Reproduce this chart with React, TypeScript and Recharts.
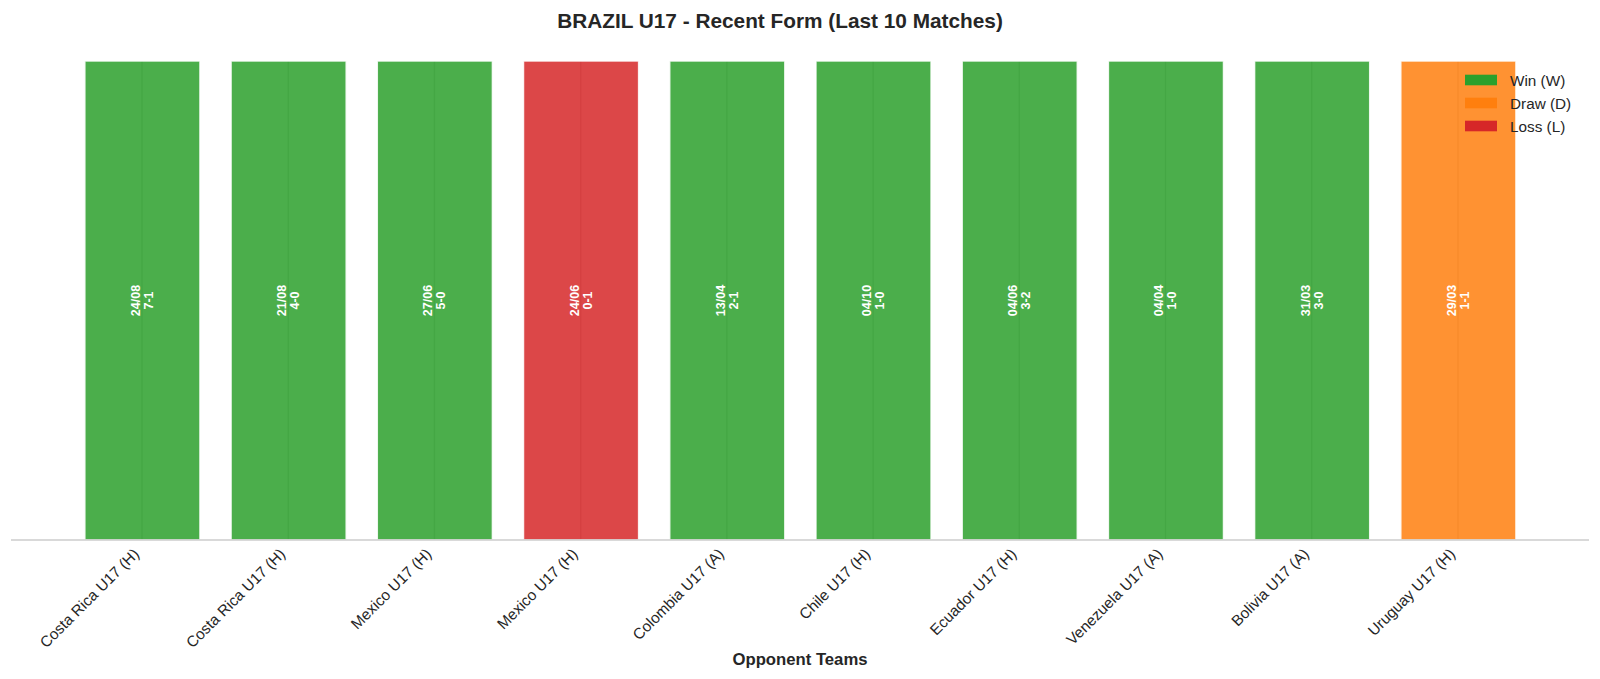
import React from 'react';
import { BarChart, Bar, XAxis, YAxis, CartesianGrid, Cell, LabelList } from 'recharts';

const opponents = [
  'Costa Rica U17 (H)', 'Costa Rica U17 (H)', 'Mexico U17 (H)', 'Mexico U17 (H)', 'Colombia U17 (A)',
  'Chile U17 (H)', 'Ecuador U17 (H)', 'Venezuela U17 (A)', 'Bolivia U17 (A)', 'Uruguay U17 (H)',
];
const dates = ['24/08', '21/08', '27/06', '24/06', '13/04', '04/10', '04/06', '04/04', '31/03', '29/03'];
const scores = ['7-1', '4-0', '5-0', '0-1', '2-1', '1-0', '3-2', '1-0', '3-0', '1-1'];
const results = ['W', 'W', 'W', 'L', 'W', 'W', 'W', 'W', 'W', 'D'];
const barHeights = [1, 1, 1, 1, 1, 1, 1, 1, 1, 1];
const tickPositions = [0, 1, 2, 3, 4, 5, 6, 7, 8, 9];

const resultColors: Record<string, string> = { W: '#2ca02c', D: '#ff7f0e', L: '#d62728' };
const legendItems = [
  { key: 'W', label: 'Win (W)' },
  { key: 'D', label: 'Draw (D)' },
  { key: 'L', label: 'Loss (L)' },
];

const data = opponents.map((o, i) => ({
  idx: i,
  value: barHeights[i],
  opponent: o,
  date: dates[i],
  score: scores[i],
  result: results[i],
}));

const FONT = '"Liberation Sans", Arial, Helvetica, sans-serif';
const TEXT = '#262626';

const W = 1600;
const H = 679;

const XTick = (props: any) => {
  const { x, y, payload } = props;
  const label = opponents[payload.value] ?? '';
  const ex = x - 2;
  const ey = y + 13;
  return (
    <text
      x={ex}
      y={ey}
      transform={`rotate(-45, ${ex}, ${ey})`}
      textAnchor="end"
      fontSize={15.3}
      fontFamily={FONT}
      fill={TEXT}
    >
      {label}
    </text>
  );
};

const BarLabel = (props: any) => {
  const { x, y, width, height, index } = props;
  const cx = x + width / 2;
  const cy = y + height / 2;
  return (
    <text
      transform={`rotate(-90, ${cx}, ${cy})`}
      textAnchor="middle"
      fontSize={12.5}
      fontWeight="bold"
      fontFamily={FONT}
      fill="#ffffff"
    >
      <tspan x={cx} y={cy - 6.5} dominantBaseline="central">{dates[index]}</tspan>
      <tspan x={cx} y={cy + 6.5} dominantBaseline="central">{scores[index]}</tspan>
    </text>
  );
};

const verticalGen = (props: any) => {
  const xAxis = props.xAxis;
  const scale = xAxis && xAxis.scale;
  if (!scale) return [];
  const fn = typeof scale === 'function' ? scale : scale.map ? scale.map : null;
  if (!fn) return [];
  return tickPositions.map((t) => fn(t));
};

export default function App() {
  return (
    <div style={{ position: 'absolute', left: 0, top: 0, width: W, height: H, background: '#fff' }}>
      <BarChart
        width={W}
        height={H}
        data={data}
        margin={{ top: 61, right: 11, bottom: 0, left: 11 }}
      >
        <CartesianGrid
          horizontal={false}
          vertical={true}
          stroke="#cccccc"
          strokeWidth={1.4}
          verticalCoordinatesGenerator={verticalGen}
        />
        <XAxis
          dataKey="idx"
          type="number"
          domain={[-0.896, 9.896]}
          ticks={tickPositions}
          interval={0}
          height={139}
          tickLine={false}
          tickSize={0}
          tick={<XTick />}
          axisLine={{ stroke: '#cccccc', strokeWidth: 1.7 }}
          allowDataOverflow
        />
        <YAxis hide domain={[0, 1]} />
        <Bar
          dataKey="value"
          barSize={115}
          isAnimationActive={false}
          stroke="#ffffff"
          strokeWidth={1.4}
          strokeOpacity={0.85}
        >
          {data.map((d, i) => (
            <Cell key={i} fill={resultColors[d.result]} fillOpacity={0.85} />
          ))}
          <LabelList dataKey="score" content={<BarLabel />} />
        </Bar>
      </BarChart>
      <svg
        width={W}
        height={H}
        style={{ position: 'absolute', left: 0, top: 0, pointerEvents: 'none' }}
      >
        <text x={780} y={27.5} textAnchor="middle" fontSize={20.8} fontWeight="bold" fontFamily={FONT} fill={TEXT}>
          BRAZIL U17 - Recent Form (Last 10 Matches)
        </text>
        <text x={800} y={665} textAnchor="middle" fontSize={16.7} fontWeight="bold" fontFamily={FONT} fill={TEXT}>
          Opponent Teams
        </text>
        {legendItems.map((it, i) => {
          const cy = 80 + i * 23;
          return (
            <g key={it.key}>
              <rect x={1465} y={cy - 5.3} width={32} height={10.6} fill={resultColors[it.key]} />
              <text x={1510} y={cy + 5.5} fontSize={15.3} fontFamily={FONT} fill={TEXT}>
                {it.label}
              </text>
            </g>
          );
        })}
      </svg>
    </div>
  );
}
